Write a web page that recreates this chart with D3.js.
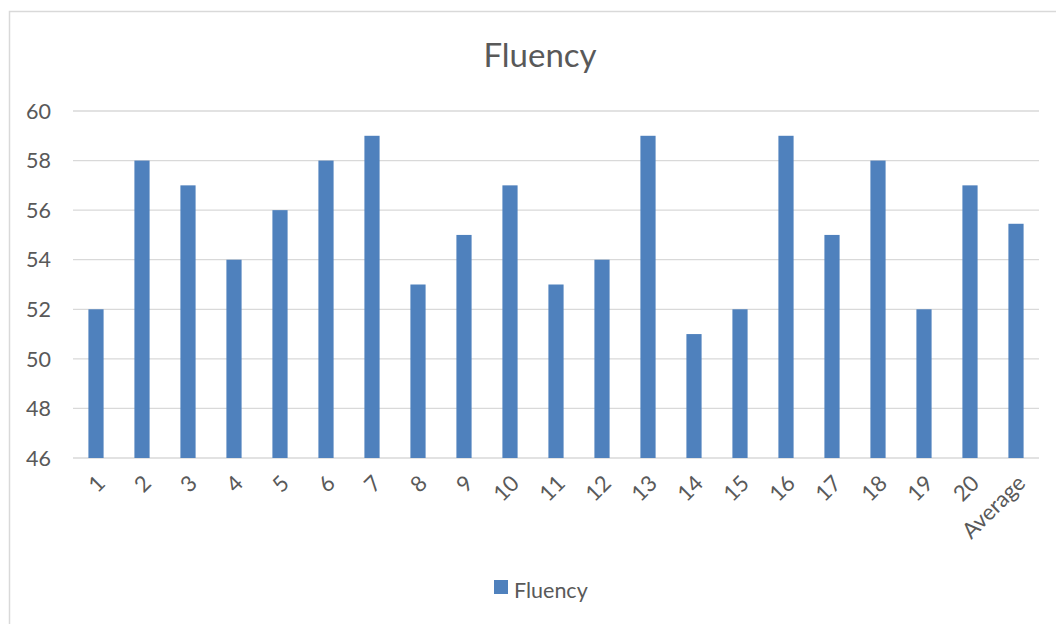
<!DOCTYPE html>
<meta charset="utf-8">
<style>
body { margin: 0; background: #fff; }
text { font-family: Lato, "Open Sans", sans-serif; fill: #595959; }
.grid line { stroke: #d9d9d9; stroke-width: 1.3; }
</style>
<svg width="1056" height="624"></svg>
<script src="https://d3js.org/d3.v7.min.js"></script>
<script>
var categories = ["1","2","3","4","5","6","7","8","9","10","11","12","13","14","15","16","17","18","19","20","Average"];
var fluency = [52,58,57,54,56,58,59,53,55,57,53,54,59,51,52,59,55,58,52,57,55.45];
var yTicks = [46,48,50,52,54,56,58,60];
var seriesName = "Fluency";

var svg = d3.select("svg");

// chart frame
svg.append("rect")
    .attr("x", 9.5).attr("y", 11.5)
    .attr("width", 1100).attr("height", 700)
    .attr("fill", "none")
    .attr("stroke", "#d9d9d9")
    .attr("stroke-width", 1.5);

var x = d3.scaleBand()
    .domain(categories)
    .range([73, 1039])
    .paddingInner(0.67)
    .paddingOuter(0.335);

var y = d3.scaleLinear()
    .domain([46, 60])
    .range([458, 111]);

svg.append("text")
    .attr("x", 540)
    .attr("y", 67)
    .attr("text-anchor", "middle")
    .attr("font-size", 33)
    .text("Fluency");

// gridlines
svg.append("g")
    .attr("class", "grid")
  .selectAll("line")
  .data(yTicks)
  .enter().append("line")
    .attr("x1", 73).attr("x2", 1039)
    .attr("y1", function(d) { return y(d); })
    .attr("y2", function(d) { return y(d); });

// y labels
svg.append("g")
  .selectAll("text")
  .data(yTicks)
  .enter().append("text")
    .attr("x", 51)
    .attr("y", function(d) { return y(d); })
    .attr("dy", "0.36em")
    .attr("text-anchor", "end")
    .attr("font-size", 21.5)
    .text(function(d) { return d; });

// bars
svg.append("g")
  .selectAll("rect")
  .data(fluency)
  .enter().append("rect")
    .attr("x", function(d, i) { return x(categories[i]); })
    .attr("width", x.bandwidth())
    .attr("y", function(d) { return y(d); })
    .attr("height", function(d) { return y(46) - y(d); })
    .attr("fill", "#4f81bd");

// x labels
svg.append("g")
  .selectAll("text")
  .data(categories)
  .enter().append("text")
    .attr("transform", function(d) {
      return "translate(" + (x(d) + x.bandwidth() / 2 + 5) + ",479) rotate(-45)";
    })
    .attr("text-anchor", "end")
    .attr("dy", "0.36em")
    .attr("font-size", 22)
    .text(function(d) { return d; });

// legend
var legend = svg.append("g");
legend.append("rect")
    .attr("x", 494).attr("y", 580)
    .attr("width", 14).attr("height", 14)
    .attr("fill", "#4f81bd");
legend.append("text")
    .attr("x", 514).attr("y", 598)
    .attr("font-size", 21.5)
    .text(seriesName);
</script>
